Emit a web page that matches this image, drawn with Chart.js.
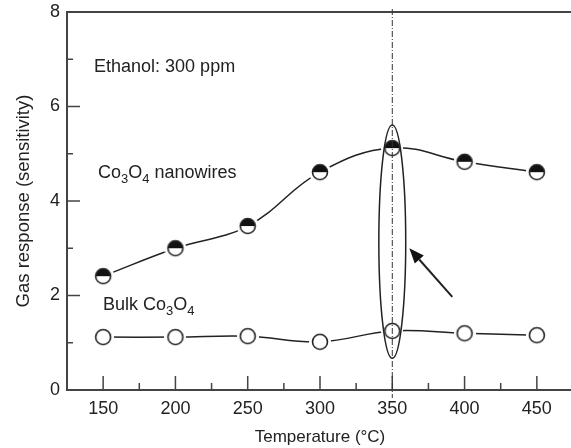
<!DOCTYPE html>
<html>
<head>
<meta charset="utf-8">
<script src="https://cdn.jsdelivr.net/npm/chart.js@4.4.1/dist/chart.umd.min.js"></script>
<style>
  html, body { margin: 0; padding: 0; background: #fff; overflow: hidden; }
  #wrap { width: 573px; height: 448px; position: relative; }
</style>
</head>
<body>
<div id="wrap"><canvas id="chart"></canvas></div>
<script>
// Data
const temperatures = [150, 200, 250, 300, 350, 400, 450];
const nanowireResponse = [2.41, 3.0, 3.47, 4.61, 5.12, 4.83, 4.61];
const bulkResponse = [1.12, 1.12, 1.14, 1.02, 1.25, 1.2, 1.16];

// Axis ticks
const xTickLabels = [150, 200, 250, 300, 350, 400, 450];
const xMinorTicks = [175, 225, 275, 325, 375, 425];
const yTickLabels = [0, 2, 4, 6, 8];
const yMinorTicks = [1, 3, 5, 7];

// Annotations (data units)
const highlightTemp = 350;
const ellipseCenter = [350, 3.14];
const ellipseRadii = [9.3, 2.47];
const arrowTail = [391.5, 1.97];
const arrowTip = [361.8, 3.0];

const FONT = '"Liberation Sans", Arial, sans-serif';
const INK = '#222';

function makeMarker(halfFilled) {
    const r = 7.5, gap = 3.5;
    const size = Math.ceil((r + gap) * 2);
    const c = document.createElement('canvas');
    c.width = size;
    c.height = size;
    const g = c.getContext('2d');
    const m = size / 2;
    g.fillStyle = '#fff';
    g.beginPath();
    g.arc(m, m, r + gap, 0, Math.PI * 2);
    g.fill();
    if (halfFilled) {
        g.fillStyle = '#111';
        g.beginPath();
        g.arc(m, m, r, Math.PI, 0);
        g.closePath();
        g.fill();
    }
    g.strokeStyle = INK;
    g.lineWidth = 1.6;
    g.beginPath();
    g.arc(m, m, r, 0, Math.PI * 2);
    g.stroke();
    return c;
}

function drawRich(ctx, parts, x, y) {
    let cx = x;
    ctx.textAlign = 'left';
    ctx.textBaseline = 'middle';
    parts.forEach(([t, sub]) => {
        ctx.font = (sub ? '13px ' : '18px ') + FONT;
        ctx.fillText(t, cx, sub ? y + 6 : y);
        cx += ctx.measureText(t).width;
    });
}

const decorations = {
    id: 'decorations',
    beforeDatasetsDraw(chart) {
        const {ctx, chartArea, scales: {x, y}} = chart;
        ctx.save();
        ctx.strokeStyle = '#444';
        // top frame line
        ctx.lineWidth = 2;
        ctx.beginPath();
        ctx.moveTo(chartArea.left, chartArea.top);
        ctx.lineTo(chartArea.right, chartArea.top);
        ctx.stroke();
        // inward tick marks
        ctx.lineWidth = 1.5;
        ctx.beginPath();
        xTickLabels.forEach(v => {
            const px = x.getPixelForValue(v);
            ctx.moveTo(px, chartArea.bottom);
            ctx.lineTo(px, chartArea.bottom - 14);
        });
        xMinorTicks.forEach(v => {
            const px = x.getPixelForValue(v);
            ctx.moveTo(px, chartArea.bottom);
            ctx.lineTo(px, chartArea.bottom - 7);
        });
        yTickLabels.forEach(v => {
            const py = y.getPixelForValue(v);
            ctx.moveTo(chartArea.left, py);
            ctx.lineTo(chartArea.left + 13, py);
        });
        yMinorTicks.forEach(v => {
            const py = y.getPixelForValue(v);
            ctx.moveTo(chartArea.left, py);
            ctx.lineTo(chartArea.left + 6, py);
        });
        ctx.stroke();
        ctx.restore();
    },
    afterDatasetsDraw(chart) {
        const {ctx, chartArea, scales: {x, y}} = chart;
        ctx.save();
        // dash-dot line at 350 C
        const hx = x.getPixelForValue(highlightTemp);
        ctx.strokeStyle = '#333';
        ctx.lineWidth = 1;
        ctx.setLineDash([6, 2, 1, 2]);
        ctx.beginPath();
        ctx.moveTo(hx, chartArea.top - 3);
        ctx.lineTo(hx, chartArea.bottom + 8);
        ctx.stroke();
        ctx.setLineDash([]);

        // ellipse
        const ex = x.getPixelForValue(ellipseCenter[0]);
        const ey = y.getPixelForValue(ellipseCenter[1]);
        const rx = x.getPixelForValue(ellipseCenter[0] + ellipseRadii[0]) - ex;
        const ry = ey - y.getPixelForValue(ellipseCenter[1] + ellipseRadii[1]);
        ctx.strokeStyle = INK;
        ctx.lineWidth = 1.5;
        ctx.beginPath();
        ctx.ellipse(ex, ey, rx, ry, 0, 0, Math.PI * 2);
        ctx.stroke();

        // arrow
        const tx = x.getPixelForValue(arrowTail[0]), ty = y.getPixelForValue(arrowTail[1]);
        const hx2 = x.getPixelForValue(arrowTip[0]), hy2 = y.getPixelForValue(arrowTip[1]);
        const ang = Math.atan2(hy2 - ty, hx2 - tx);
        const head = 15, wing = 6;
        const bx = hx2 - head * Math.cos(ang), by = hy2 - head * Math.sin(ang);
        ctx.lineWidth = 2;
        ctx.beginPath();
        ctx.moveTo(tx, ty);
        ctx.lineTo(bx, by);
        ctx.stroke();
        ctx.fillStyle = '#111';
        ctx.beginPath();
        ctx.moveTo(hx2, hy2);
        ctx.lineTo(bx + wing * Math.sin(ang), by - wing * Math.cos(ang));
        ctx.lineTo(bx - wing * Math.sin(ang), by + wing * Math.cos(ang));
        ctx.closePath();
        ctx.fill();

        // text labels
        ctx.fillStyle = INK;
        drawRich(ctx, [['Ethanol: 300 ppm', false]], x.getPixelForValue(143.7), y.getPixelForValue(6.84));
        drawRich(ctx, [['Co', false], ['3', true], ['O', false], ['4', true], [' nanowires', false]],
            x.getPixelForValue(146.4), y.getPixelForValue(4.59));
        drawRich(ctx, [['Bulk Co', false], ['3', true], ['O', false], ['4', true]],
            x.getPixelForValue(149.9), y.getPixelForValue(1.8));
        ctx.restore();
    }
};

const markerHalf = makeMarker(true);
const markerOpen = makeMarker(false);

new Chart(document.getElementById('chart'), {
    type: 'line',
    data: {
        datasets: [
            {
                label: 'Co3O4 nanowires',
                data: temperatures.map((t, i) => ({x: t, y: nanowireResponse[i]})),
                borderColor: INK,
                borderWidth: 1.5,
                tension: 0.4,
                pointStyle: markerHalf,
                pointRadius: 8
            },
            {
                label: 'Bulk Co3O4',
                data: temperatures.map((t, i) => ({x: t, y: bulkResponse[i]})),
                borderColor: INK,
                borderWidth: 1.5,
                tension: 0.4,
                pointStyle: markerOpen,
                pointRadius: 8
            }
        ]
    },
    options: {
        responsive: true,
        maintainAspectRatio: false,
        animation: false,
        layout: { autoPadding: false, padding: { top: 12, right: 0, left: 0, bottom: 0 } },
        plugins: {
            legend: { display: false },
            tooltip: { enabled: false }
        },
        scales: {
            x: {
                type: 'linear',
                min: 125,
                max: 475,
                afterBuildTicks: s => { s.ticks = xTickLabels.map(v => ({value: v})); },
                afterFit: s => { s.height = 58; s.paddingLeft = 0; s.paddingRight = 0; },
                grid: { display: false, drawTicks: false },
                border: { color: '#444', width: 2 },
                ticks: { color: INK, font: { family: FONT, size: 18 }, padding: 8, maxRotation: 0, autoSkip: false },
                title: { display: true, text: 'Temperature (°C)', color: INK, font: { family: FONT, size: 17 }, padding: 0 }
            },
            y: {
                min: 0,
                max: 8,
                afterBuildTicks: s => { s.ticks = yTickLabels.map(v => ({value: v})); },
                afterFit: s => { s.width = 67; s.paddingTop = 0; s.paddingBottom = 0; },
                grid: { display: false, drawTicks: false },
                border: { color: '#444', width: 2 },
                ticks: { color: INK, font: { family: FONT, size: 18 }, padding: 7 },
                title: { display: true, text: 'Gas response (sensitivity)', color: INK, font: { family: FONT, size: 18.5 }, padding: { top: 13, bottom: 0 } }
            }
        }
    },
    plugins: [decorations]
});
</script>
</body>
</html>
